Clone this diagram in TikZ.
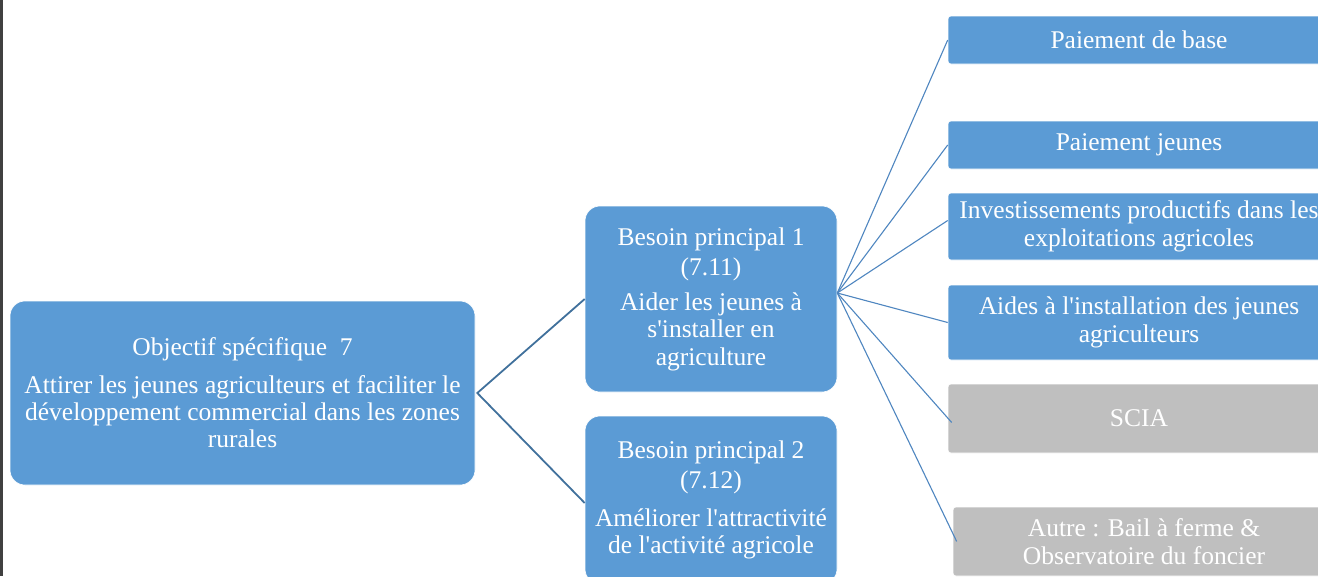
\documentclass[tikz,border=0pt]{standalone}
\usepackage{fontspec}
\setmainfont{Liberation Serif}
\definecolor{boxblue}{HTML}{5B9BD5}
\definecolor{boxgray}{HTML}{BFBFBF}
\definecolor{linkblue}{HTML}{41719C}
\definecolor{thinlink}{HTML}{4F86C0}
\newcommand{\ap}{\textquotesingle}
\tikzset{
  big/.style={fill=boxblue, draw=white, line width=0.6pt, rounded corners=15pt, text=white, align=center, inner sep=0pt,
    font=\fontsize{25.5}{27.3}\selectfont},
  leaf/.style={fill=boxblue, draw=white, line width=0.6pt, rounded corners=3pt, text=white, align=center, inner sep=0pt,
    minimum width=382pt, font=\fontsize{25.5}{28}\selectfont},
  leafgray/.style={leaf, fill=boxgray},
  thick link/.style={draw=linkblue, line width=1.8pt},
  thin link/.style={draw=thinlink, line width=1.1pt},
}
\begin{document}
\begin{tikzpicture}[x=1pt, y=-1pt]
\useasboundingbox (0,0) rectangle (1318,576);
\clip (0,0) rectangle (1318,576);
\fill[white] (0,0) rectangle (1318,576);
\draw[black!75, line width=2.5pt] (1.3,0) -- (1.3,576);
% main boxes
\node[big, minimum width=465pt, minimum height=184pt] (obj) at (242.5,393)
  {Objectif spécifique\ \ 7\\[10pt]Attirer les jeunes agriculteurs et faciliter le\\développement commercial dans les zones\\rurales};
\node[big, minimum width=252pt, minimum height=186pt] (b1) at (711,299)
  {Besoin principal 1\\[3pt](7.11)\\[8pt]Aider les jeunes à\\s\ap installer en\\agriculture};
\node[big, minimum width=252pt, minimum height=168pt] (b2) at (711,500)
  {Besoin principal 2\\[3pt](7.12)\\[10pt]Améliorer l\ap attractivité\\de l\ap activité agricole};
% leaves
\node[leaf, minimum height=48pt] (l1) at (1139,40) {Paiement de base};
\node[leaf, minimum height=48pt] (l2) at (1139,145) {\raisebox{-2pt}{Paiement jeunes}};
\node[leaf, minimum height=67pt] (l3) at (1139,226.5) {Investissements productifs dans les\\exploitations agricoles};
\node[leaf, minimum height=75pt] (l4) at (1139,322.5) {Aides à l\ap installation des jeunes\\agriculteurs};
\node[leafgray, minimum height=69pt] (l5) at (1139,418.5) {SCIA};
\node[leafgray, minimum height=69pt] (l6) at (1144,541.5) {Autre : Bail à ferme \&\\Observatoire du foncier};
% connectors
\draw[thick link] (b1.west) -- ([xshift=2pt]obj.east) -- ([yshift=-3pt]b2.west);
\coordinate (hub) at ([yshift=6pt]b1.east);
\draw[thin link] (hub) -- (l1.west);
\draw[thin link] (hub) -- (l2.west);
\draw[thin link] (hub) -- ([yshift=6pt]l3.west);
\draw[thin link] (hub) -- (l4.west);
\draw[thin link] (hub) -- ([xshift=4pt,yshift=-4pt]l5.west);
\draw[thin link] (hub) -- ([xshift=4pt]l6.west);
\end{tikzpicture}
\end{document}
